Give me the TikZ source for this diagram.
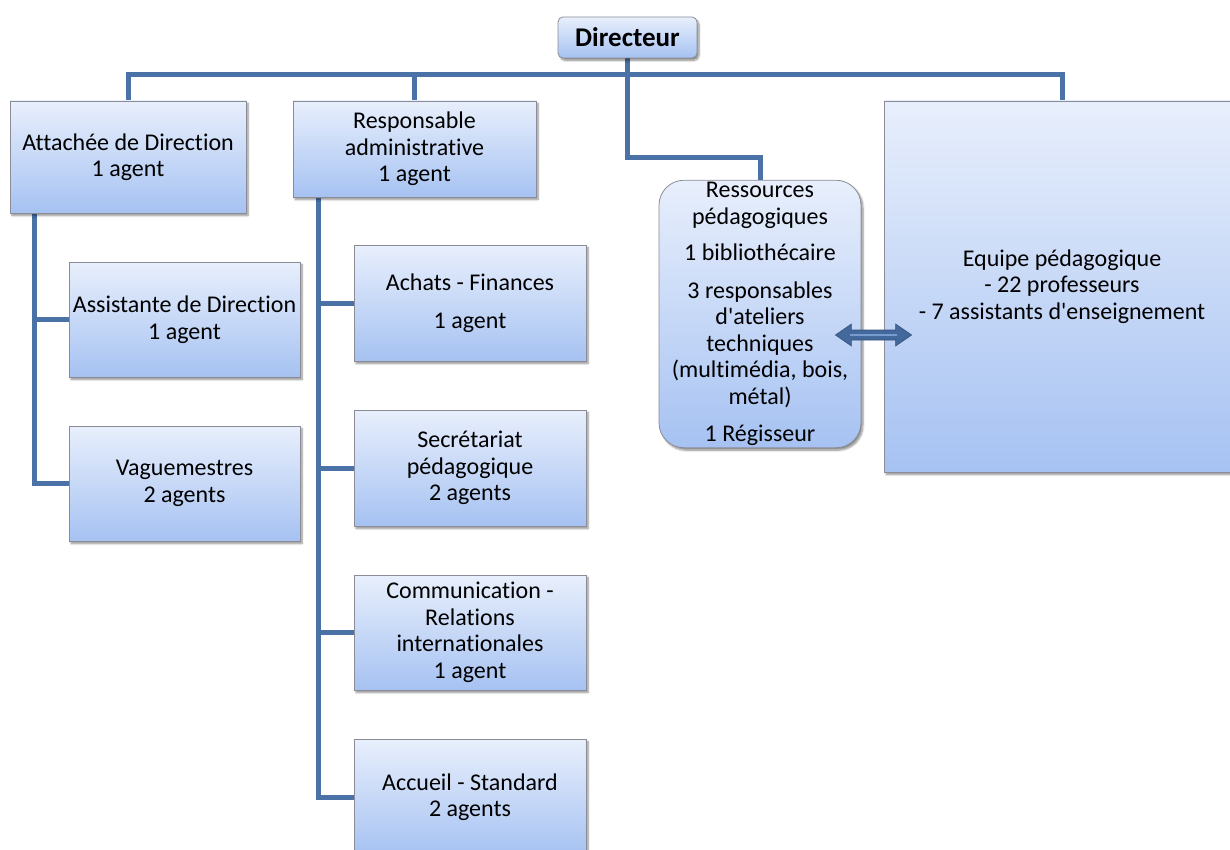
\documentclass[tikz,border=0pt]{standalone}
\usepackage{fontspec}
\setmainfont{Carlito}[Ligatures={NoCommon}]
\usetikzlibrary{calc,shadows.blur}
\pgfdeclarelayer{background}
\pgfsetlayers{background,main}
\definecolor{conn}{RGB}{74,114,166}
\definecolor{boxtop}{RGB}{232,239,252}
\definecolor{boxbot}{RGB}{166,194,242}
\definecolor{boxedge}{RGB}{140,140,150}
\definecolor{arrfill}{RGB}{66,104,156}
\definecolor{arrin}{RGB}{120,155,205}
\tikzset{
  x=1pt,y=1pt,
  orgbox/.style={draw=boxedge, line width=0.8pt, top color=boxtop, bottom color=boxbot,
     align=center, inner sep=2pt, font=\fontsize{24}{26.5}\selectfont,
     blur shadow={shadow xshift=2pt, shadow yshift=-2.5pt, shadow blur steps=6, shadow opacity=45}},
  conn/.style={draw=conn, line width=5pt}
}
\begin{document}
\begin{tikzpicture}
\useasboundingbox (0,0) rectangle (1230,-850);
% boxes
\node[orgbox, rounded corners=5pt, minimum width=139, minimum height=41, font=\fontsize{27}{30}\bfseries\selectfont] (dir) at (627.5,-37.5) {Directeur};
\node[orgbox, minimum width=236, minimum height=112] (att) at (128,-157) {Attachée de Direction\\1 agent};
\node[orgbox, minimum width=243, minimum height=96] (resp) at (414.5,-149) {Responsable\\administrative\\1 agent};
\node[orgbox, minimum width=356, minimum height=371] (eq) at (1062,-286.5) {Equipe pédagogique\\- 22 professeurs\\- 7 assistants d\textquotesingle enseignement};
\node[orgbox, rounded corners=25pt, minimum width=202, minimum height=264] (ress) at (760,-314) {Ressources\\pédagogiques\\[10pt]1 bibliothécaire\\[11pt]3 responsables\\d\textquotesingle ateliers\\techniques\\(multimédia, bois,\\métal)\\[11pt]1 Régisseur};
\node[orgbox, minimum width=231, minimum height=115] (ass) at (184.5,-319.5) {Assistante de Direction\\1 agent};
\node[orgbox, minimum width=231, minimum height=115] (vag) at (184.5,-483.5) {Vaguemestres\\2 agents};
\node[orgbox, minimum width=232, minimum height=116] (ach) at (470,-303) {Achats - Finances\\[11pt]1 agent};
\node[orgbox, minimum width=232, minimum height=116] (sec) at (470,-468) {Secrétariat\\pédagogique\\2 agents};
\node[orgbox, minimum width=232, minimum height=115] (com) at (470,-632.5) {Communication -\\Relations\\internationales\\1 agent};
\node[orgbox, minimum width=232, minimum height=116] (acc) at (470,-797) {Accueil - Standard\\2 agents};
% connectors
\coordinate (a1) at ($(att.south west)+(25,0)$);
\coordinate (r1) at ($(resp.south west)+(26,0)$);
\begin{pgfonlayer}{background}
\draw[conn] (att.north) -- ++(0,26) -| (eq.north);
\draw[conn] (resp.north) -- ++(0,26);
\draw[conn] (dir.south) -- ++(0,-99) -| (ress.north);
\draw[conn] (a1) |- (ass.west);
\draw[conn] (a1) |- (vag.west);
\draw[conn] (r1) |- (ach.west);
\draw[conn] (r1) |- (sec.west);
\draw[conn] (r1) |- (com.west);
\draw[conn] (r1) |- (acc.west);
\end{pgfonlayer}
% double arrow
\coordinate (aL) at ($(ress.east)+(-26,-21)$);
\coordinate (aR) at ($(eq.west)+(28,-48.5)$);
\fill[arrfill, draw=arrfill!80!black, line width=0.6pt]
  (aL) -- ++(16,11) -- ++(0,-6) -- ($(aR)+(-16,5)$) -- ++(0,6) -- (aR) -- ++(-16,-11) -- ++(0,6)
  -- ($(aL)+(16,-5)$) -- ++(0,-6) -- cycle;
\draw[arrin, line width=2.5pt] ($(aL)+(15,0)$) -- ($(aR)+(-15,0)$);
\end{tikzpicture}
\end{document}
